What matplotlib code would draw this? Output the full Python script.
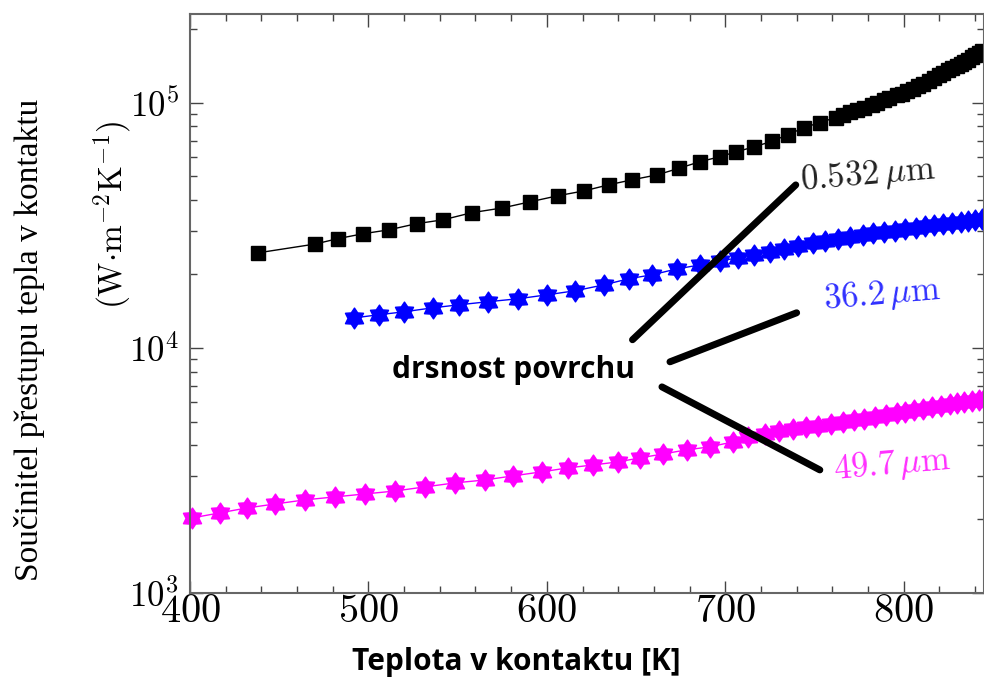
import matplotlib
matplotlib.use("Agg")
import matplotlib.pyplot as plt
import numpy as np
from matplotlib.path import Path
from matplotlib.ticker import MultipleLocator, LogLocator, FixedLocator

plt.rcParams['mathtext.fontset'] = 'cm'
plt.rcParams['font.family'] = ['serif']
plt.rcParams['font.serif'] = ['cmr10', 'DejaVu Serif']
plt.rcParams['axes.formatter.use_mathtext'] = True

# ---- data ----
T_black = [438, 470, 483, 497, 511.5, 527, 542, 558, 575, 590.5, 606, 621, 635, 648, 662,
           674, 686, 697, 706, 716, 726, 735, 744, 753, 762, 766, 770, 774, 778, 782, 785,
           789, 792, 796, 799, 802, 805, 808, 811, 814, 817, 820, 822, 825, 827, 830, 832,
           834, 836, 838, 840, 842, 844]
h_black = [24400, 26500, 27900, 29200, 30300, 32100, 33300, 35600, 37200, 39400, 41700, 43700,
           46300, 48500, 50800, 54000, 57500, 60200, 63000, 66000, 69500, 74000, 79000, 83000,
           87000, 89200, 91500, 93500, 95500, 98000, 100000, 102500, 104500, 107000, 109000,
           111500, 114000, 116500, 119000, 122500, 126000, 129500, 132000, 135500, 138000,
           141500, 144000, 147000, 150000, 153000, 156000, 159500, 163000]

T_blue = [492, 506, 520, 536, 551, 567, 584, 600, 616, 632, 646, 659, 673, 686, 697, 707, 716,
          725, 733, 741, 749, 756, 763, 770, 777, 783, 789, 795, 801, 807, 812, 817, 822, 827,
          832, 836, 840, 844]
h_blue = [13250, 13650, 14030, 14560, 14990, 15420, 15860, 16450, 17100, 18070, 19140, 19860,
          21000, 21800, 22600, 23300, 24000, 24700, 25400, 26100, 26800, 27400, 27900, 28400,
          28900, 29300, 29700, 30100, 30500, 30900, 31300, 31600, 31900, 32300, 32600, 32900,
          33100, 33400]

T_mag = [401, 416.8, 431.9, 447.6, 464.4, 481.2, 498, 514.8, 531.7, 548.5, 565.3, 581, 597.2,
         611.8, 625.8, 639.8, 652.1, 665, 678.4, 691.3, 704.2, 713, 722, 730, 738, 745, 752,
         759, 766, 772, 778, 784, 790, 796, 801, 806, 811, 816, 821, 826, 830, 834, 838, 842, 845]
h_mag = [2023, 2123, 2223, 2307, 2398, 2466, 2535, 2606, 2709, 2813, 2891, 3004, 3121, 3238,
         3328, 3425, 3556, 3690, 3836, 3945, 4133, 4330, 4460, 4570, 4660, 4740, 4820, 4900,
         4980, 5060, 5140, 5220, 5310, 5400, 5480, 5560, 5640, 5720, 5800, 5880, 5950, 6010,
         6070, 6130, 6170]

roughness_labels = [r'$0.532\,\mu\mathrm{m}$', r'$36.2\,\mu\mathrm{m}$', r'$49.7\,\mu\mathrm{m}$']
label_colors = ['#222222', '#3030ff', '#ff30ff']
label_pos = [(741.5, 50500), (754, 16500), (760, 3330)]
pointer_x = [(648, 739.5), (669, 740), (664.5, 753)]
pointer_y = [(10790, 46200), (8770, 13900), (6930, 3177)]
annot_text = 'drsnost povrchu'
annot_pos = (581.5, 8100)

x_label = 'Teplota v kontaktu [K]'
y_label1 = 'Součinitel přestupu tepla v kontaktu'
y_label2 = r'$(\mathrm{W{\cdot}m}^{-2}\mathrm{K}^{-1})$'

# hexagram marker
ang = np.deg2rad(90 + 30 * np.arange(12))
rad = np.where(np.arange(12) % 2 == 0, 1.0, 0.62)
verts = np.column_stack([rad * np.cos(ang), rad * np.sin(ang)])
verts = np.vstack([verts, verts[:1]])
hexagram = Path(verts, [Path.MOVETO] + [Path.LINETO] * 11 + [Path.CLOSEPOLY])

fig = plt.figure(figsize=(9.84, 6.82), dpi=100)
ax = fig.add_axes([190/984, 1-593/682, (984-190)/984, (593-14)/682])

ax.plot(T_black, h_black, '-', color='black', lw=1.0, marker='s', ms=10.5, mec='black', mfc='black')
ax.plot(T_blue, h_blue, '-', color='blue', lw=1.0, marker=hexagram, ms=15, mec='blue', mfc='blue')
ax.plot(T_mag, h_mag, '-', color='magenta', lw=1.0, marker=hexagram, ms=15, mec='magenta',
        mfc='magenta', clip_on=False)

for (xs, ys) in zip(pointer_x, pointer_y):
    ax.plot(xs, ys, '-', color='black', lw=5.0, solid_capstyle='round')

for lab, c, (x, y) in zip(roughness_labels, label_colors, label_pos):
    ax.text(x, y, lab, color=c, fontsize=25, ha='left', va='center', rotation=5)

ax.text(annot_pos[0], annot_pos[1], annot_text, fontsize=21.5, fontweight='bold',
        family=['Open Sans', 'DejaVu Sans'], ha='center', va='center', color='black')

ax.set_yscale('log')
ax.set_xlim(400, 845)
ax.set_ylim(1000, 2.3e5)
ax.xaxis.set_major_locator(MultipleLocator(100))
ax.xaxis.set_minor_locator(MultipleLocator(20))
ax.yaxis.set_major_locator(FixedLocator([1e3, 1e4, 1e5]))
ax.yaxis.set_minor_locator(LogLocator(base=10, subs=range(2, 10)))

ax.tick_params(which='both', direction='in', top=True, right=True, color='#444444')
ax.tick_params(axis='x', labelsize=29, pad=1)
ax.tick_params(axis='y', labelsize=25, pad=8)
ax.tick_params(which='major', length=9, width=1.0)
ax.tick_params(which='minor', length=5, width=1.0)
for s in ax.spines.values():
    s.set_color('#666666')
    s.set_linewidth(1.5)

fig.text(516/984, 1-662/682, x_label, fontsize=21.5, fontweight='bold',
         family=['Open Sans', 'DejaVu Sans'], ha='center', va='center')
fig.text(30/984, 1-340/682, y_label1, fontsize=24, family=['Liberation Serif', 'DejaVu Serif'],
         rotation=90, ha='center', va='center')
fig.text(113/984, 1-215/682, y_label2, fontsize=24, rotation=90, ha='center', va='center')

fig.savefig('out.png', dpi=100)
